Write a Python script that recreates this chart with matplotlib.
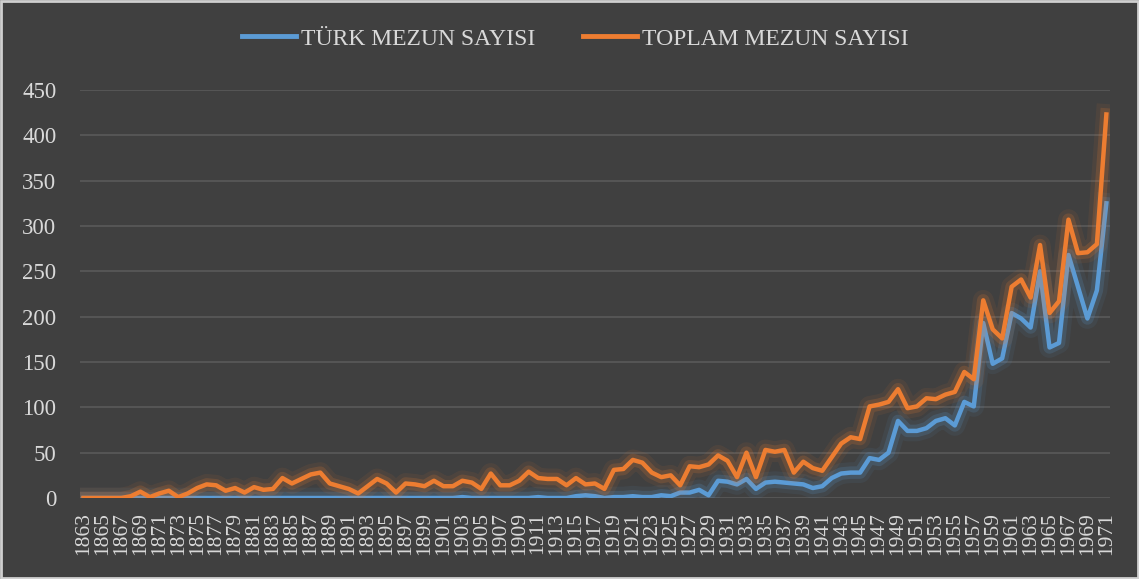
import matplotlib
matplotlib.use("Agg")
from matplotlib import pyplot as plt
from matplotlib import patheffects as pe
from matplotlib.patches import Rectangle

years = list(range(1863, 1972))

# TOPLAM MEZUN SAYISI
total = [
    0, 0, 0, 0, 0, 2, 7, 1, 5, 8,
    1, 5, 11, 15, 14, 8, 11, 6, 12, 9,
    10, 22, 16, 21, 26, 28, 16, 13, 10, 5,
    13, 21, 16, 6, 16, 15, 13, 19, 13, 13,
    19, 17, 10, 27, 14, 14, 19, 29, 22, 21,
    21, 14, 22, 15, 16, 10, 31, 32, 42, 39,
    28, 23, 25, 14, 35, 34, 37, 47, 41, 23,
    50, 23, 53, 51, 53, 28, 40, 33, 30, 45,
    60, 67, 65, 101, 103, 106, 120, 99, 101, 110,
    109, 114, 117, 139, 131, 218, 186, 176, 233, 241,
    221, 279, 204, 217, 307, 270, 271, 280, 423,
]

# TÜRK MEZUN SAYISI
turk = [
    0, 0, 0, 0, 0, 0, 0, 0, 0, 0,
    0, 0, 0, 0, 0, 0, 0, 0, 0, 0,
    0, 0, 0, 0, 0, 0, 0, 0, 0, 0,
    0, 0, 0, 0, 0, 0, 0, 0, 0, 0,
    1, 0, 0, 0, 0, 0, 0, 0, 1, 0,
    0, 0, 2, 3, 2, 0, 1, 1, 2, 1,
    1, 3, 2, 6, 6, 9, 3, 19, 18, 15,
    21, 10, 17, 18, 17, 16, 15, 11, 13, 22,
    27, 28, 28, 44, 42, 50, 85, 74, 74, 77,
    85, 88, 80, 106, 101, 193, 148, 154, 204, 198,
    188, 250, 166, 171, 268, 233, 198, 229, 325,
]

y_ticks = [0, 50, 100, 150, 200, 250, 300, 350, 400, 450]

BG = "#404040"
TXT = "#d9d9d9"
BLUE = "#5b9bd5"
ORANGE = "#ed7d31"


def glow(color):
    return [pe.Stroke(linewidth=15, foreground=color, alpha=0.08),
            pe.Stroke(linewidth=9, foreground=color, alpha=0.18),
            pe.Normal()]


def main():
    plt.rcParams['font.family'] = ['Liberation Serif', 'DejaVu Serif']
    fig = plt.figure(figsize=(11.39, 5.79), dpi=100, facecolor=BG)
    ax = fig.add_axes([0.0702, 0.1399, 0.9043, 0.7047])
    ax.set_facecolor(BG)

    ax.plot(years, turk, color=BLUE, linewidth=3.2, solid_joinstyle='round',
            label="TÜRK MEZUN SAYISI", path_effects=glow(BLUE), zorder=3)
    ax.plot(years, total, color=ORANGE, linewidth=3.2, solid_joinstyle='round',
            label="TOPLAM MEZUN SAYISI", path_effects=glow(ORANGE), zorder=4)

    ax.set_xlim(1863 - 0.38, 1971 + 0.38)
    ax.set_ylim(0, 450)
    ax.set_yticks(y_ticks)
    ax.set_xticks(years[::2])
    ax.set_xticklabels([str(y) for y in years[::2]], rotation=90)
    ax.tick_params(axis='x', length=0, pad=10, labelsize=15.5, colors=TXT)
    ax.tick_params(axis='y', length=0, pad=17, labelsize=16.5, colors=TXT)
    ax.grid(axis='y', color='#5a5a5a', linewidth=1.2)
    ax.set_axisbelow(True)
    for s in ax.spines.values():
        s.set_visible(False)

    leg = fig.legend(loc='center', bbox_to_anchor=(0.505, 0.933), ncol=2,
                     frameon=False, fontsize=17, handlelength=2.3,
                     handletextpad=0.2, columnspacing=2.0)
    for t in leg.get_texts():
        t.set_color(TXT)
    for line in leg.get_lines():
        line.set_linewidth(3.5)
        line.set_path_effects([])

    fig.patches.append(Rectangle((0.001, 0.002), 0.998, 0.996, transform=fig.transFigure,
                                 fill=False, edgecolor='#d0d0d0', linewidth=2))
    fig.savefig("out.png", dpi=100, facecolor=BG)


if __name__ == "__main__":
    main()
